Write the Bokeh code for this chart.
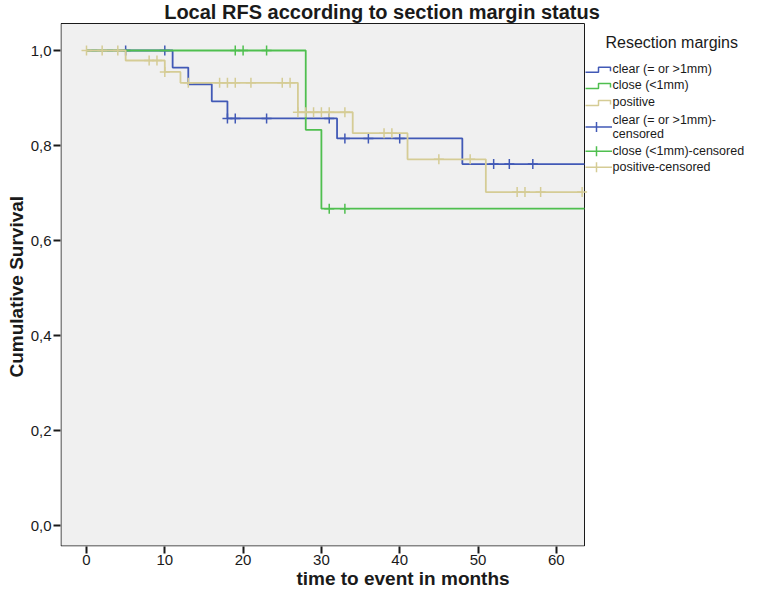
from bokeh.plotting import figure
from bokeh.models import FixedTicker, Range1d, Label, PolyAnnotation, BoxAnnotation
from bokeh.embed import file_html
from bokeh.resources import INLINE

# ---------------- data ----------------
clear_event_times = [0, 11, 13, 16, 18, 32, 48]
clear_survival = [1.0, 0.964, 0.929, 0.893, 0.857, 0.815, 0.761]
clear_last_time = 63.6
clear_censored = [5, 10, 18, 19, 23, 31, 33, 36, 40, 52, 54, 57]

close_event_times = [0, 28, 30]
close_survival = [1.0, 0.833, 0.667]
close_last_time = 63.6
close_censored = [19, 20, 23, 31, 33]

positive_event_times = [0, 5, 10, 12, 27, 34, 41, 51]
positive_survival = [1.0, 0.979, 0.955, 0.932, 0.870, 0.826, 0.771, 0.702]
positive_last_time = 63.3
positive_censored = [0, 2, 4, 8, 9, 10, 13, 17, 18, 19, 21, 25, 26, 27, 28, 29,
                     30, 31, 33, 38, 39, 45, 49, 55, 56, 58, 63.3]

x_ticks = [0, 10, 20, 30, 40, 50, 60]
y_ticks = [0.0, 0.2, 0.4, 0.6, 0.8, 1.0]
y_tick_labels = ["0,0", "0,2", "0,4", "0,6", "0,8", "1,0"]

title_text = "Local RFS according to section margin status"
x_label = "time to event in months"
y_label = "Cumulative Survival"
legend_title = "Resection margins"
legend_lines = ["clear (= or >1mm)", "close (<1mm)", "positive"]
legend_censored = [["clear (= or >1mm)-", "censored"],
                   ["close (<1mm)-censored"],
                   ["positive-censored"]]

# ---------------- styling / geometry ----------------
BLUE = "#4159b6"
GREEN = "#4fbf4f"
KHAKI = "#d5cc95"
FONT = "Liberation Sans"
INK = "#1a1a1a"

FIG_W, FIG_H = 745, 591
LEFT, BOTTOM_BORDER = 60, 45
FRAME_W = FIG_W - LEFT                 # frame runs to the right edge (legend lives inside it)
FRAME_H = FIG_H - BOTTOM_BORDER        # frame runs to the top edge (title lives inside it)
PXX, PXY = 7.83, 475.0                 # pixels per month / per unit of survival
X0 = -26 / PXX                         # frame left 26 px before month 0
X1 = X0 + FRAME_W / PXX
Y1 = 1 + 50 / PXY                      # survival 1.0 sits 50 px below the top
Y0 = Y1 - FRAME_H / PXY
AREA_RIGHT = X0 + 524 / PXX            # right edge of the grey plotting area
AREA_TOP = 1 + 27 / PXY                # top edge of the grey plotting area


def dx(px):
    return X0 + (px - LEFT) / PXX


def dy(py):
    return Y1 - py / PXY


p = figure(width=FIG_W, height=FIG_H, output_backend="svg", toolbar_location=None,
           x_range=Range1d(X0, X1), y_range=Range1d(Y0, Y1),
           min_border_left=LEFT, min_border_right=0, min_border_top=0,
           min_border_bottom=BOTTOM_BORDER)
p.background_fill_color = "white"
p.border_fill_color = "white"
p.outline_line_color = None
p.grid.visible = False

p.add_layout(BoxAnnotation(left=X0 + 0.5 / PXX, right=AREA_RIGHT,
                           bottom=Y0 + 0.5 / PXY, top=AREA_TOP,
                           fill_color="#f0f0f0", fill_alpha=1,
                           line_color=INK, line_alpha=1, line_width=1,
                           level="underlay"))

p.xaxis.ticker = FixedTicker(ticks=x_ticks)
p.yaxis.ticker = FixedTicker(ticks=y_ticks)
p.yaxis.major_label_overrides = {t: s for t, s in zip(y_ticks, y_tick_labels)}
for ax in (p.xaxis[0], p.yaxis[0]):
    ax.axis_line_color = None
    ax.major_tick_line_color = INK
    ax.major_tick_line_width = 2
    ax.major_tick_in = 0
    ax.minor_tick_line_color = None
    ax.major_label_text_font = FONT
    ax.major_label_text_font_size = "15px"
    ax.major_label_text_color = INK
    ax.axis_label_text_font = FONT
    ax.axis_label_text_font_size = "19px"
    ax.axis_label_text_font_style = "bold"
    ax.axis_label_text_color = INK
p.xaxis.major_tick_out = 7
p.yaxis.major_tick_out = 7
p.xaxis.major_label_standoff = 1
p.yaxis.major_label_standoff = 2
p.xaxis.axis_label_standoff = 0
p.yaxis.axis_label_standoff = 1
p.xaxis.axis_label = x_label
# trailing no-break spaces push the rotated label down to the centre of the grey area
p.yaxis.axis_label = y_label + "\u00a0" * 5


def level_at(times, surv, t):
    lvl = surv[0]
    for tt, s in zip(times, surv):
        if tt <= t:
            lvl = s
    return lvl


groups = [
    (clear_event_times, clear_survival, clear_last_time, clear_censored, BLUE),
    (close_event_times, close_survival, close_last_time, close_censored, GREEN),
    (positive_event_times, positive_survival, positive_last_time, positive_censored, KHAKI),
]
for times, surv, last, cens, col in groups:
    xs = list(times) + [last]
    ys = list(surv) + [surv[-1]]
    p.step(xs, ys, mode="after", line_color=col, line_width=1.8)
    cy = [level_at(times, surv, c) for c in cens]
    p.scatter(cens, cy, marker="cross", size=10, line_color=col, line_width=1.5)

# ---------------- title ----------------
p.add_layout(Label(x=dx(381.5), y=dy(11), text=title_text, text_align="center",
                   text_baseline="middle", text_font=FONT, text_font_size="20px",
                   text_font_style="bold", text_color=INK))

# ---------------- legend ----------------
p.add_layout(Label(x=dx(605), y=dy(42), text=legend_title, text_align="left",
                   text_baseline="middle", text_font=FONT, text_font_size="16px",
                   text_color=INK))

LEG_FONT = "12.5px"
line_rows = [68.3, 84.5, 101.5]
for ry, txt, col in zip(line_rows, legend_lines, [BLUE, GREEN, KHAKI]):
    pts_x = [585, 598, 598, 610, 610, 610, 598, 598]
    pts_y = [ry + 3.5, ry + 3.5, ry - 1.5, ry - 1.5, ry + 2.5, ry - 1.5, ry - 1.5, ry + 3.5]
    p.add_layout(PolyAnnotation(xs=[dx(v) for v in pts_x], ys=[dy(v) for v in pts_y],
                                fill_alpha=0, line_color=col, line_alpha=1,
                                line_width=1.5))
    p.add_layout(Label(x=dx(612), y=dy(ry), text=txt, text_align="left",
                       text_baseline="middle", text_font=FONT, text_font_size=LEG_FONT,
                       text_color=INK))

cens_rows = [(126.5, [119.5, 133.5]), (150.7, [150.7]), (166.7, [166.7])]
for (iy, tys), txts, col in zip(cens_rows, legend_censored, [BLUE, GREEN, KHAKI]):
    pts_x = [585, 611.5, 596, 596, 596, 596]
    pts_y = [iy, iy, iy, iy - 5, iy + 5, iy]
    p.add_layout(PolyAnnotation(xs=[dx(v) for v in pts_x], ys=[dy(v) for v in pts_y],
                                fill_alpha=0, line_color=col, line_alpha=1,
                                line_width=1.5))
    for ty, txt in zip(tys, txts):
        p.add_layout(Label(x=dx(612), y=dy(ty), text=txt, text_align="left",
                           text_baseline="middle", text_font=FONT,
                           text_font_size=LEG_FONT, text_color=INK))

open("out.html", "w").write(file_html(p, INLINE))
